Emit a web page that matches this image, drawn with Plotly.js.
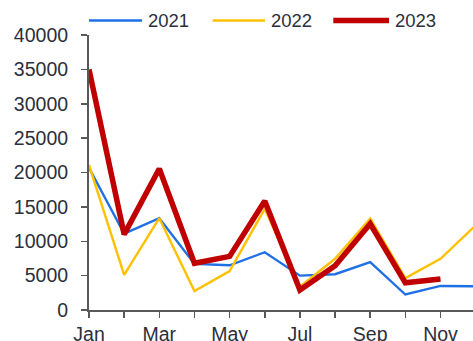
<!DOCTYPE html>
<html>
<head>
<meta charset="utf-8">
<script src="https://cdn.plot.ly/plotly-3.0.1.min.js"></script>
<style>html,body{margin:0;padding:0;background:#fff;}#chart{width:473px;height:341px;}</style>
</head>
<body>
<div id="chart"></div>
<script>
const months = ['Jan','Feb','Mar','Apr','May','Jun','Jul','Aug','Sep','Oct','Nov','Dec'];
const tickLabels = ['Jan','','Mar','','May','','Jul','','Sep','','Nov',''];
const seriesNames = ['2021','2022','2023'];
const s2021 = [20700, 11100, 13350, 6700, 6500, 8400, 5000, 5200, 6950, 2250, 3500, 3450];
const s2022 = [21100, 5100, 13350, 2750, 5650, 14700, 3400, 7450, 13300, 4650, 7450, 12300];
const s2023 = [35000, 11000, 20550, 6800, 7800, 15850, 2900, 6450, 12550, 3950, 4500, null];
const yTicks = [0,5000,10000,15000,20000,25000,30000,35000,40000];

const colors = ['#1F6FE5', '#FFC000', '#C00000'];
const widths = [2.4, 2.4, 5.5];
const W = 473, H = 341;
const M = {l: 89, r: 0, t: 35, b: 31};
const plotW = W - M.l - M.r, plotH = H - M.t - M.b;
const px = x => (x - M.l) / plotW;
const py = y => (H - M.b - y) / plotH;
const textColor = '#2b2f3b';
const axisColor = '#595959';
const font = 'Liberation Sans, Arial, sans-serif';

const allSeries = [s2021, s2022, s2023];
const traces = allSeries.map((s, i) => ({
  x: months, y: s, type: 'scatter', mode: 'lines', name: seriesNames[i],
  line: {color: colors[i], width: widths[i]}, showlegend: false, cliponaxis: true
}));

// custom legend (long line samples)
const legendLineX = [[89, 142], [212.7, 265], [333.3, 389]];
const legendY = 20.5;
const shapes = legendLineX.map((xx, i) => ({
  type: 'line', xref: 'paper', yref: 'paper',
  x0: px(xx[0]), x1: px(xx[1]), y0: py(legendY), y1: py(legendY),
  line: {color: colors[i], width: i === 2 ? 5.5 : 2.5}
}));
const annotations = legendLineX.map((xx, i) => ({
  xref: 'paper', yref: 'paper', x: px(xx[1] + 4), y: py(legendY + 0.5),
  xanchor: 'left', yanchor: 'middle', showarrow: false,
  text: seriesNames[i], font: {family: font, size: 18.5, color: textColor}
}));

const layout = {
  width: W, height: H, margin: M,
  paper_bgcolor: '#fff', plot_bgcolor: '#fff',
  showlegend: false,
  font: {family: font, color: textColor},
  xaxis: {
    type: 'category', range: [0, plotW / 35.15],
    tickmode: 'array', tickvals: months, ticktext: tickLabels,
    showgrid: false, zeroline: false,
    showline: true, linecolor: axisColor, linewidth: 2,
    ticks: 'outside', ticklen: 6, tickwidth: 1.5, tickcolor: axisColor,
    tickfont: {family: font, size: 19.5, color: textColor},
    ticklabelstandoff: 0
  },
  yaxis: {
    range: [0, 40000], tickmode: 'array', tickvals: yTicks, tickformat: 'd',
    showgrid: false, zeroline: false,
    showline: true, linecolor: axisColor, linewidth: 2,
    ticks: 'outside', ticklen: 6, tickwidth: 1.5, tickcolor: axisColor,
    tickfont: {family: font, size: 19.5, color: textColor},
    ticklabelstandoff: 9
  },
  shapes: shapes, annotations: annotations
};

Plotly.newPlot('chart', traces, layout, {staticPlot: true, displayModeBar: false});
</script>
</body>
</html>
